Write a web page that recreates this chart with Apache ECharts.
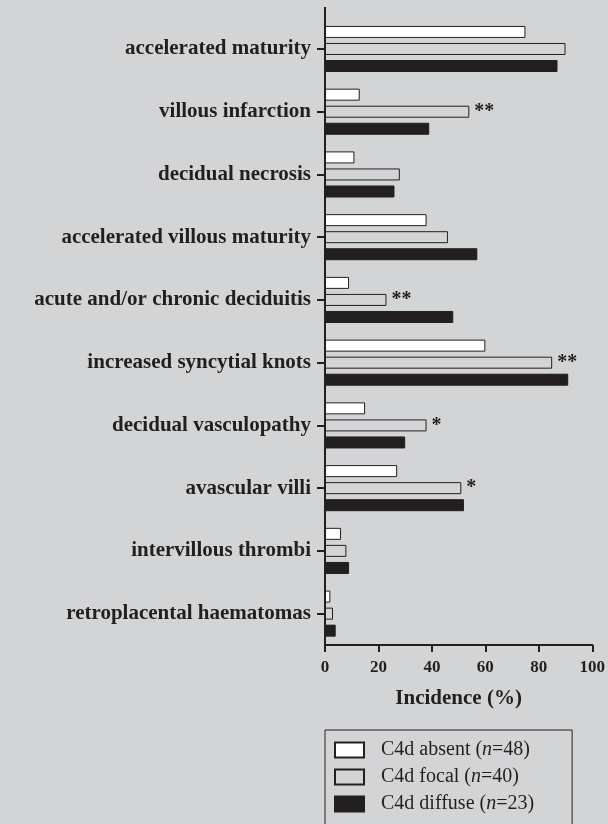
<!DOCTYPE html>
<html><head><meta charset="utf-8">
<script src="https://cdn.jsdelivr.net/npm/echarts@6/dist/echarts.min.js"></script>
<style>html,body{margin:0;padding:0;background:#d3d4d6;}#c{width:608px;height:824px;}</style>
</head><body><div id="c"></div>
<script>
const categories = ["accelerated maturity","villous infarction","decidual necrosis","accelerated villous maturity","acute and/or chronic deciduitis","increased syncytial knots","decidual vasculopathy","avascular villi","intervillous thrombi","retroplacental haematomas"];
const absentValues = [75,13,11,38,9,60,15,27,6,2];
const focalValues  = [90,54,28,46,23,85,38,51,8,3];
const diffuseValues= [87,39,26,57,48,91,30,52,9,4];
const focalMarks   = ["","**","","","**","**","*","*","",""];
const xTicks = [0,20,40,60,80,100];
const seriesNames = ["C4d absent (n=48)","C4d focal (n=40)","C4d diffuse (n=23)"];

const ink = '#231f20';
const serif = '"Liberation Serif", "DejaVu Serif", serif';
const chart = echarts.init(document.getElementById('c'));
chart.setOption({
  backgroundColor:'#d3d4d6',
  animation:false,
  textStyle:{fontFamily:serif,color:ink},
  grid:{left:325,right:15,top:17.6,bottom:179,containLabel:false},
  graphic:[{type:'line',shape:{x1:325,y1:7,x2:325,y2:18},style:{stroke:ink,lineWidth:2},silent:true}],
  xAxis:{type:'value',min:xTicks[0],max:xTicks[xTicks.length-1],interval:20,
    axisLine:{show:true,lineStyle:{color:ink,width:2}},
    axisTick:{show:true,inside:false,length:7,lineStyle:{color:ink,width:2}},
    axisLabel:{fontFamily:serif,fontWeight:'bold',fontSize:17,color:ink,margin:14},
    splitLine:{show:false},
    name:'Incidence (%)',nameLocation:'middle',nameGap:43,
    nameTextStyle:{fontFamily:serif,fontWeight:'bold',fontSize:21,color:ink}},
  yAxis:{type:'category',data:categories,inverse:true,
    axisLine:{show:true,lineStyle:{color:ink,width:2}},
    axisTick:{show:true,alignWithLabel:true,length:8,lineStyle:{color:ink,width:2}},
    axisLabel:{fontFamily:serif,fontWeight:'bold',fontSize:21,color:ink,margin:14}},
  legend:{orient:'vertical',left:325,top:730,height:74,itemWidth:29,itemHeight:15,itemGap:7,
    padding:[10,38,12,9],borderColor:ink,borderWidth:1,icon:'rect',
    data:seriesNames,
    formatter:function(n){return n.replace(/\(n=/,'({i|n}=');},
    textStyle:{fontFamily:serif,fontSize:20,color:ink,padding:[0,0,0,12],
      rich:{i:{fontFamily:serif,fontStyle:'italic',fontSize:20,color:ink}}}},
  series:[
    {name:seriesNames[0],type:'bar',data:absentValues,barWidth:12,barGap:'42%',barCategoryGap:'27%',
      itemStyle:{color:'#ffffff',borderColor:ink,borderWidth:1}},
    {name:seriesNames[1],type:'bar',data:focalValues,barWidth:12,barGap:'42%',
      itemStyle:{color:'#d3d4d6',borderColor:ink,borderWidth:1},
      label:{show:true,position:'right',distance:5,fontFamily:serif,fontWeight:'bold',fontSize:20,color:ink,
        formatter:function(p){return focalMarks[p.dataIndex];}}},
    {name:seriesNames[2],type:'bar',data:diffuseValues,barWidth:12,barGap:'42%',
      itemStyle:{color:ink,borderColor:ink,borderWidth:1}}
  ]
});
</script></body></html>
